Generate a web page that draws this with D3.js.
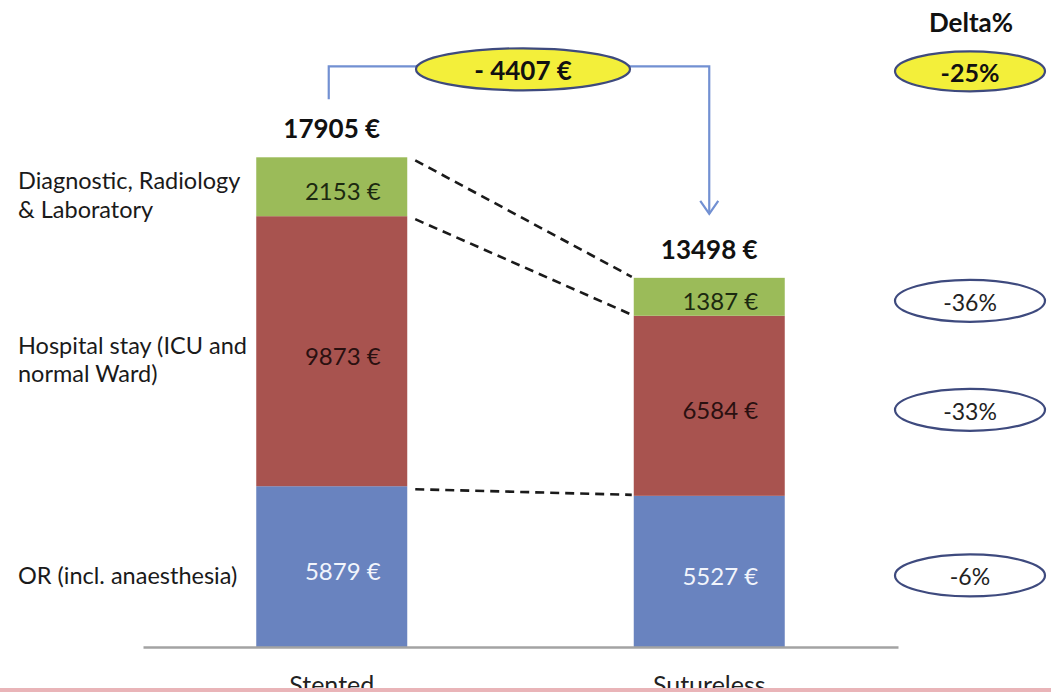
<!DOCTYPE html>
<html>
<head>
<meta charset="utf-8">
<script src="https://cdn.jsdelivr.net/npm/d3@7"></script>
<style>
  html, body { margin: 0; padding: 0; background: #ffffff; }
  svg { display: block; font-family: Lato, "Open Sans", sans-serif; }
</style>
</head>
<body>
<svg id="chart" width="1051" height="692"></svg>
<script>
// ---- data ----
const groups = ["Stented", "Sutureless"];
const categories = ["OR (incl. anaesthesia)", "Hospital stay (ICU and normal Ward)", "Diagnostic, Radiology & Laboratory"];
const categoryLines = [["OR (incl. anaesthesia)"], ["Hospital stay (ICU and", "normal Ward)"], ["Diagnostic, Radiology", "& Laboratory"]];
const stentedValues = [5879, 9873, 2153];
const suturelessValues = [5527, 6584, 1387];
const segmentColors = ["#6983bf", "#a8534f", "#9bbb59"];
const segmentTextColors = ["#f2f5fc", "#2a1010", "#1c2910"];

// ---- setup ----
const svg = d3.select("#chart");
const W = 1051, H = 692;

const x = d3.scaleBand().domain(groups).range([143, 898]).paddingInner(0.6).paddingOuter(0.3);
const y = d3.scaleLinear().domain([0, 20000]).range([647, 100]);
const bw = x.bandwidth();

const valuesByGroup = { "Stented": stentedValues, "Sutureless": suturelessValues };
const stacks = {};
groups.forEach(g => {
  let acc = 0;
  stacks[g] = valuesByGroup[g].map((v, i) => {
    const s = { group: g, cat: i, v0: acc, v1: acc + v, value: v };
    acc += v;
    return s;
  });
});
const totals = groups.map(g => d3.sum(valuesByGroup[g]));
const segs = groups.flatMap(g => stacks[g]);

// ---- bars ----
svg.append("g").selectAll("rect").data(segs).join("rect")
  .attr("x", d => x(d.group))
  .attr("width", bw)
  .attr("y", d => y(d.v1))
  .attr("height", d => y(d.v0) - y(d.v1))
  .attr("fill", d => segmentColors[d.cat]);

// segment value labels
svg.append("g").selectAll("text").data(segs).join("text")
  .attr("x", d => x(d.group) + bw / 2 + 11)
  .attr("y", d => (y(d.v0) + y(d.v1)) / 2 + 4)
  .attr("text-anchor", "middle")
  .attr("dominant-baseline", "central")
  .attr("font-size", 24)
  .attr("fill", d => segmentTextColors[d.cat])
  .text(d => d.value + " €");

// ---- axis ----
const axis = svg.append("g").attr("transform", `translate(0,${y(0)})`)
  .call(d3.axisBottom(x).tickSize(0).tickSizeOuter(0).tickPadding(29));
axis.select(".domain").attr("stroke", "#a3a3a3").attr("stroke-width", 2.5);
axis.selectAll("text").attr("font-size", 25).attr("font-family", "Lato, 'Open Sans', sans-serif").attr("fill", "#222");

// ---- dashed connectors between stacks ----
const boundaries = [3, 2, 1]; // tops of cumulative stacks
const g0 = groups[0], g1 = groups[1];
const dashData = boundaries.map(k => ({
  ya: y(d3.sum(stentedValues.slice(0, k))),
  yb: y(d3.sum(suturelessValues.slice(0, k)))
}));
svg.append("g").selectAll("line").data(dashData).join("line")
  .attr("x1", x(g0) + bw + 8)
  .attr("y1", d => d.ya + 3)
  .attr("x2", x(g1) - 2)
  .attr("y2", d => d.yb - 1)
  .attr("stroke", "#1a1a1a")
  .attr("stroke-width", 2.6)
  .attr("stroke-dasharray", "9,6");

// ---- category labels on the left ----
const catG = svg.append("g");
categoryLines.forEach((lines, i) => {
  const s = stacks[g0][i];
  const cy = (y(s.v0) + y(s.v1)) / 2 + 8;
  const lh = 28.5;
  const t = catG.append("text")
    .attr("x", 18)
    .attr("font-size", 23.5)
    .attr("fill", "#1a1a1a")
    .attr("dominant-baseline", "central");
  lines.forEach((ln, j) => {
    t.append("tspan").attr("x", 18)
      .attr("y", cy + (j - (lines.length - 1) / 2) * lh)
      .text(ln);
  });
});

// ---- totals ----
svg.append("g").selectAll("text").data(groups).join("text")
  .attr("x", g => x(g) + bw / 2)
  .attr("y", (g, i) => y(totals[i]) - 29)
  .attr("text-anchor", "middle")
  .attr("dominant-baseline", "central")
  .attr("font-size", 26)
  .attr("font-weight", "bold")
  .attr("fill", "#111")
  .text((g, i) => totals[i] + " €");

// ---- difference connector ----
const cx0 = x(g0) + bw / 2 - 3, cx1 = x(g1) + bw / 2;
const lineY = y(totals[0]) - 91;
const arrowTip = y(totals[1]) - 64;
svg.append("path")
  .attr("d", `M${cx0},${y(totals[0]) - 58} V${lineY} H${cx1} V${arrowTip}`)
  .attr("fill", "none").attr("stroke", "#7290d2").attr("stroke-width", 2.2);
svg.append("path")
  .attr("d", `M${cx1 - 9},${arrowTip - 13} L${cx1},${arrowTip} L${cx1 + 9},${arrowTip - 13}`)
  .attr("fill", "none").attr("stroke", "#7290d2").attr("stroke-width", 2.2);

const diff = totals[1] - totals[0];
const ecx = (cx0 + cx1) / 2 + 4;
svg.append("ellipse").attr("cx", ecx).attr("cy", lineY + 3).attr("rx", 107).attr("ry", 21)
  .attr("fill", "#f3ef3a").attr("stroke", "#3e4a7e").attr("stroke-width", 2.2);
svg.append("text").attr("x", ecx).attr("y", lineY + 4)
  .attr("text-anchor", "middle").attr("dominant-baseline", "central")
  .attr("font-size", 26).attr("font-weight", "bold").attr("fill", "#111")
  .text("- " + Math.abs(diff) + " €");

// ---- Delta% column ----
const dx = 970;
svg.append("text").attr("x", dx + 1).attr("y", 22)
  .attr("text-anchor", "middle").attr("dominant-baseline", "central")
  .attr("font-size", 26).attr("font-weight", "bold").attr("fill", "#111")
  .text("Delta%");
const totalPct = Math.round((totals[1] - totals[0]) / totals[0] * 100);
svg.append("ellipse").attr("cx", dx).attr("cy", lineY + 5).attr("rx", 75).attr("ry", 20)
  .attr("fill", "#f3ef3a").attr("stroke", "#3e4a7e").attr("stroke-width", 2.2);
svg.append("text").attr("x", dx).attr("y", lineY + 6)
  .attr("text-anchor", "middle").attr("dominant-baseline", "central")
  .attr("font-size", 25).attr("font-weight", "bold").attr("fill", "#111")
  .text(totalPct + "%");

const pctData = stacks[g1].map((s, i) => ({
  cy: (y(s.v0) + y(s.v1)) / 2 + 4,
  pct: Math.round((suturelessValues[i] - stentedValues[i]) / stentedValues[i] * 100)
}));
const pg = svg.append("g").selectAll("g").data(pctData).join("g");
pg.append("ellipse").attr("cx", dx).attr("cy", d => d.cy).attr("rx", 75).attr("ry", 21)
  .attr("fill", "#ffffff").attr("stroke", "#3e4a7e").attr("stroke-width", 2.2);
pg.append("text").attr("x", dx).attr("y", d => d.cy + 1)
  .attr("text-anchor", "middle").attr("dominant-baseline", "central")
  .attr("font-size", 23).attr("fill", "#222")
  .text(d => d.pct + "%");

// ---- bottom band ----
svg.append("rect").attr("x", 0).attr("y", 688).attr("width", W).attr("height", 4).attr("fill", "#e9b4b8");
</script>
</body>
</html>
